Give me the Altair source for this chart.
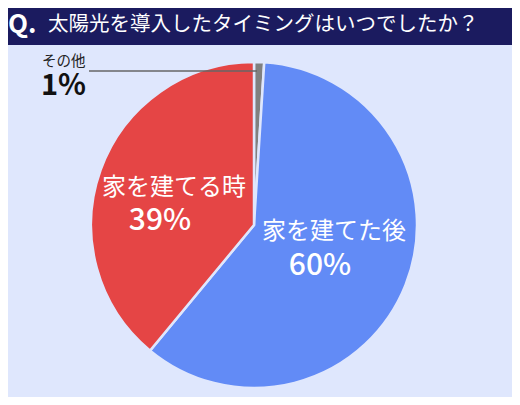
import altair as alt
import pandas as pd

# slices, clockwise from 12 o'clock
categories = ["その他", "家を建てた後", "家を建てる時"]
shares = [1, 60, 39]
slice_order = [0, 1, 2]
colors = ["#808080", "#628bf6", "#e54545"]
question = "太陽光を導入したタイミングはいつでしたか？"
question_mark = "Q."

BG = "#dfe7fd"
NAVY = "#1b1b5f"
FONT = "Noto Sans CJK JP"
CX, CY = 246, 217

df = pd.DataFrame({"label": categories, "share": shares, "order": slice_order})
df["pct"] = df["share"].astype(str) + "%"
title_df = pd.DataFrame({"mark": [question_mark], "question": [question]})

theta_scale = alt.Scale(domain=[0, 100])
color_scale = alt.Scale(domain=categories, range=colors)

title_bar = (
    alt.Chart(title_df)
    .mark_rect(color=NAVY)
    .encode(x=alt.value(0), x2=alt.value(504), y=alt.value(0), y2=alt.value(37))
)
title_q = (
    alt.Chart(title_df)
    .mark_text(font=FONT, fontSize=26, fontWeight="bold", color="white",
               align="left", baseline="alphabetic")
    .encode(x=alt.value(0), y=alt.value(25), text="mark:N")
)
title_text = (
    alt.Chart(title_df)
    .mark_text(font=FONT, fontSize=20.5, color="white",
               align="left", baseline="alphabetic")
    .encode(x=alt.value(40), y=alt.value(23), text="question:N")
)

pie = (
    alt.Chart(df)
    .mark_arc(outerRadius=163, stroke=BG, strokeWidth=2.5)
    .encode(
        theta=alt.Theta("share:Q", stack=True, scale=theta_scale),
        order=alt.Order("order:Q"),
        color=alt.Color("label:N", scale=color_scale, legend=None),
        x=alt.value(CX),
        y=alt.value(CY),
    )
)

stacked = (
    alt.Chart(df)
    .transform_stack(stack="share", as_=["s0", "s1"], groupby=[],
                     sort=[alt.SortField(field="order", order="ascending")])
    .transform_calculate(mid="(datum.s0 + datum.s1) / 2")
)


def slice_text(name, field, size, weight, dx, dy):
    return (
        stacked.transform_filter(alt.datum.label == name)
        .mark_text(radius=85, dx=dx, dy=dy, font=FONT, fontSize=size,
                   fontWeight=weight, color="white", align="center",
                   baseline="alphabetic")
        .encode(
            theta=alt.Theta("mid:Q", stack=False, scale=theta_scale),
            text=f"{field}:N",
            x=alt.value(CX),
            y=alt.value(CY),
        )
    )


red_name = slice_text("家を建てる時", "label", 24, "normal", 0, -1)
red_pct = slice_text("家を建てる時", "pct", 30, 500, -14, 34)
blue_name = slice_text("家を建てた後", "label", 24, "normal", 1, -17)
blue_pct = slice_text("家を建てた後", "pct", 30, 500, -13, 19)

other = alt.Chart(df).transform_filter(alt.datum.label == "その他")
leader = other.mark_rule(color="#666666", strokeWidth=1.5).encode(
    x=alt.value(81), x2=alt.value(249), y=alt.value(63)
)
other_name = other.mark_text(
    font=FONT, fontSize=14.5, color="#222222", align="left", baseline="alphabetic"
).encode(x=alt.value(34), y=alt.value(58), text="label:N")
other_pct = other.mark_text(
    font=FONT, fontSize=29, fontWeight="bold", color="#111111",
    align="left", baseline="alphabetic"
).encode(x=alt.value(33), y=alt.value(87), text="pct:N")

chart = (
    alt.layer(title_bar, title_q, title_text, pie, red_name, red_pct,
              blue_name, blue_pct, leader, other_name, other_pct)
    .properties(width=504, height=389, autosize=alt.AutoSizeParams(type="none"),
                padding=0, background=BG)
    .configure_view(strokeWidth=0)
)

chart.save("out.html", embed_options={"renderer": "svg", "actions": False})
